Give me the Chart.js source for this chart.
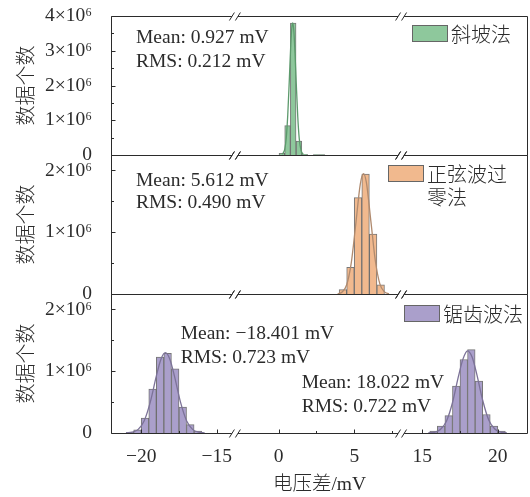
<!DOCTYPE html>
<html>
<head>
<meta charset="utf-8">
<script src="https://cdn.jsdelivr.net/npm/chart.js@4.4.0/dist/chart.umd.min.js"></script>
<style>
  html, body { margin: 0; padding: 0; background: #fff; }
  #wrap { position: relative; width: 530px; height: 497px; overflow: hidden; }
  canvas { position: absolute; left: 0; }
</style>
</head>
<body>
<div id="wrap">
  <canvas id="c1" width="530" height="203" style="top:-16px"></canvas>
  <canvas id="c2" width="530" height="203" style="top:123px"></canvas>
  <canvas id="c3" width="530" height="235" style="top:262px"></canvas>
</div>
<script>
// voltage axis is cut into three kept stretches (mV)
const xSegments = [[-22, -13.8], [-2.9, 8.1], [13.6, 22]];
const xMajorTicks = [-20, -15, 0, 5, 15, 20];
const xMinorTicks = [-17.5, 2.5, 7.5, 17.5];

// counts are in units of 10^6
const rampTicks = [0, 1, 2, 3, 4];
const rampMinor = [0.5, 1.5, 2.5, 3.5];
const sineTicks = [0, 1, 2];
const sineMinor = [0.5, 1.5];

// 斜坡法
const rampBins = [0.21, 0.585, 0.96, 1.34, 1.72, 2.48, 2.86];
const rampCounts = [0.05, 0.845, 3.795, 0.40, 0.02, 0.012, 0.012];
const rampFitX = [0.25, 0.4, 0.5, 0.6, 0.7, 0.8, 0.87, 0.93, 1.0, 1.08, 1.16, 1.26, 1.36, 1.48, 1.62];
const rampFitY = [0.023, 0.17, 0.49, 1.16, 2.14, 3.18, 3.67, 3.80, 3.58, 2.93, 2.08, 1.11, 0.47, 0.13, 0.018];

// 正弦波过零法
const sineBins = [4.25, 4.75, 5.25, 5.75, 6.25, 6.75];
const sineCounts = [0.07, 0.43, 1.56, 1.94, 0.97, 0.15];
const sineFitX = [3.9, 4.2, 4.5, 4.8, 5.1, 5.4, 5.61, 5.8, 6.1, 6.4, 6.7, 7.0, 7.3];
const sineFitY = [0.004, 0.031, 0.15, 0.50, 1.13, 1.78, 1.95, 1.81, 1.18, 0.53, 0.16, 0.035, 0.005];

// 锯齿波法, negative and positive clusters
const sawNegBins = [-20.75, -20.25, -19.75, -19.25, -18.75, -18.25, -17.75, -17.25, -16.75, -16.25];
const sawNegCounts = [0.012, 0.05, 0.24, 0.71, 1.23, 1.29, 1.04, 0.42, 0.135, 0.03];
const sawPosBins = [15.75, 16.25, 16.75, 17.25, 17.75, 18.25, 18.75, 19.25, 19.75, 20.25];
const sawPosCounts = [0.03, 0.11, 0.28, 0.76, 1.19, 1.35, 0.84, 0.30, 0.11, 0.03];
const sawNegFitX = [-21.0, -20.6, -20.2, -19.8, -19.4, -19.0, -18.7, -18.4, -18.1, -17.8, -17.4, -17.0, -16.6, -16.2, -15.8];
const sawNegFitY = [0.002, 0.013, 0.059, 0.20, 0.50, 0.92, 1.19, 1.30, 1.19, 0.92, 0.50, 0.20, 0.059, 0.013, 0.002];
const sawPosFitX = [15.4, 15.8, 16.2, 16.6, 17.0, 17.4, 17.7, 18.0, 18.3, 18.6, 19.0, 19.4, 19.8, 20.2, 20.6];
const sawPosFitY = [0.002, 0.012, 0.055, 0.19, 0.49, 0.92, 1.20, 1.33, 1.23, 0.96, 0.53, 0.21, 0.064, 0.014, 0.002];

const serif = '"Liberation Serif", "Times New Roman", "Noto Sans CJK SC", serif';
const cjk = '"Noto Sans CJK SC", "Liberation Serif", sans-serif';
const ink = '#2b2b2b';

const minus = v => (v < 0 ? '\u2212' + Math.abs(v) : String(v));
const pts = (xs, ys) => xs.map((x, i) => ({ x: x, y: ys[i] }));

// linear scale with the gaps between xSegments removed
const Linear = Chart.LinearScale || Chart.registry.getScale('linear');
class BrokenAxis extends Linear {
  buildTicks() {
    return xMajorTicks.concat(xMinorTicks).sort((a, b) => a - b)
      .map(v => ({ value: v, major: xMajorTicks.includes(v) }));
  }
  _kept(value) {
    let pos = 0;
    for (const [lo, hi] of xSegments) {
      if (value <= hi) return pos + Math.max(value - lo, 0);
      pos += hi - lo;
    }
    return pos;
  }
  getPixelForValue(value) {
    if (value === null || isNaN(value)) return NaN;
    return this.getPixelForDecimal(this._kept(value) / this._kept(Infinity));
  }
  getValueForPixel(pixel) {
    let pos = this.getDecimalForPixel(pixel) * this._kept(Infinity);
    for (const [lo, hi] of xSegments) {
      if (pos <= hi - lo) return lo + pos;
      pos -= hi - lo;
    }
    return xSegments[xSegments.length - 1][1];
  }
}
BrokenAxis.id = 'broken';
BrokenAxis.defaults = {};
Chart.register(BrokenAxis);

// frame with break marks, inward ticks, stats text and legend box
const panelDecor = {
  id: 'panelDecor',
  afterDatasetsDraw(chart, args, opts) {
    const { ctx, chartArea: a, scales: { x, y } } = chart;
    const L = Math.round(a.left) + 0.5, R = Math.round(a.right) - 0.5;
    const T = Math.round(a.top) + 0.5, B = Math.round(a.bottom) + 0.5;
    const breaks = xSegments.slice(0, -1).map(s => x.getPixelForValue(s[1]));
    const gap = 3;
    ctx.save();
    ctx.strokeStyle = ink;
    ctx.lineWidth = 1;
    ctx.beginPath();
    ctx.moveTo(L, T); ctx.lineTo(L, B);
    ctx.moveTo(R, T); ctx.lineTo(R, B);
    [T, B].forEach(yy => {
      let from = L;
      breaks.forEach(bx => { ctx.moveTo(from, yy); ctx.lineTo(bx - gap, yy); from = bx + gap; });
      ctx.moveTo(from, yy); ctx.lineTo(R, yy);
      breaks.forEach(bx => {
        [-gap, gap].forEach(o => { ctx.moveTo(bx + o - 2.5, yy + 4); ctx.lineTo(bx + o + 2.5, yy - 4); });
      });
    });
    // y ticks point into the plot
    y.ticks.forEach(t => {
      const py = Math.round(y.getPixelForValue(t.value)) + 0.5;
      ctx.moveTo(L, py); ctx.lineTo(L + 4, py);
    });
    (opts.yMinor || []).forEach(v => {
      const py = Math.round(y.getPixelForValue(v)) + 0.5;
      ctx.moveTo(L, py); ctx.lineTo(L + 2.5, py);
    });
    if (opts.xTicks) {
      x.ticks.forEach(t => {
        const px = Math.round(x.getPixelForValue(t.value)) + 0.5;
        ctx.moveTo(px, B); ctx.lineTo(px, B - (t.major ? 4 : 2.5));
      });
    }
    ctx.stroke();

    ctx.fillStyle = ink;
    ctx.textBaseline = 'alphabetic';
    ctx.textAlign = 'left';
    ctx.font = '19.5px ' + serif;
    (opts.notes || []).forEach(n => ctx.fillText(n.text, a.left + n.dx, a.top + n.dy));

    const lg = opts.legend;
    if (lg) {
      const ds = chart.data.datasets[0];
      const bx = a.right - lg.dx, by = a.top + lg.dy;
      ctx.fillStyle = ds.backgroundColor;
      ctx.fillRect(bx, by, 36, 17);
      ctx.strokeStyle = '#666';
      ctx.strokeRect(bx + 0.5, by + 0.5, 35, 16);
      ctx.fillStyle = ink;
      ctx.font = '300 20px ' + cjk;
      ctx.textBaseline = 'middle';
      lg.lines.forEach((s, i) => ctx.fillText(s, bx + 39, by + 9 + i * 23));
    }
    ctx.restore();
  }
};

function makePanel(id, cfg) {
  const datasets = [{
    type: 'bar',
    label: cfg.label,
    data: cfg.bars,
    backgroundColor: cfg.fill,
    borderColor: 'rgba(95, 95, 95, 0.85)',
    borderWidth: 1,
    barPercentage: 1,
    categoryPercentage: 1,
    order: 1
  }];
  cfg.fits.forEach(f => datasets.push({
    type: 'line',
    data: f,
    borderColor: cfg.curve,
    borderWidth: 1.3,
    pointRadius: 0,
    fill: false,
    cubicInterpolationMode: 'monotone',
    order: 0
  }));

  return new Chart(document.getElementById(id), {
    type: 'bar',
    data: { datasets: datasets },
    plugins: [panelDecor],
    options: {
      responsive: false,
      animation: false,
      events: [],
      layout: { padding: cfg.padding },
      plugins: {
        legend: { display: false },
        tooltip: { enabled: false },
        panelDecor: { notes: cfg.notes, legend: cfg.legend, yMinor: cfg.yMinor, xTicks: cfg.showX }
      },
      scales: {
        x: {
          type: 'broken',
          min: xSegments[0][0],
          max: xSegments[xSegments.length - 1][1],
          offset: false,
          display: cfg.showX,
          grid: { display: false, drawTicks: false },
          border: { display: false },
          ticks: {
            autoSkip: false,
            maxRotation: 0,
            padding: 12,
            color: ink,
            font: { family: serif, size: 19.5 },
            callback: v => (xMajorTicks.includes(v) ? minus(v) : '')
          },
          title: {
            display: true,
            text: '电压差/mV',
            color: ink,
            font: { family: serif, size: 19.5, weight: 300 },
            padding: { top: 0, bottom: 0 }
          },
          afterFit: s => { s.height = cfg.showX ? 64 : 0; }
        },
        y: {
          min: 0,
          max: cfg.yMax,
          grid: { display: false, drawTicks: false },
          border: { display: false },
          afterBuildTicks: s => { s.ticks = cfg.yTicks.map(v => ({ value: v })); },
          afterFit: s => { s.width = 111; },
          ticks: {
            padding: 19,
            color: ink,
            font: { family: serif, size: 19.5 },
            callback: v => (v === 0 ? '0' : v + '×10⁶')
          },
          title: {
            display: true,
            text: '数据个数',
            color: ink,
            font: { family: cjk, size: 20, weight: 300 },
            padding: { top: 13, bottom: 0 }
          }
        }
      }
    }
  });
}

makePanel('c1', {
  label: '斜坡法',
  fill: '#8ec89c',
  curve: '#5c9a6c',
  bars: pts(rampBins, rampCounts),
  fits: [pts(rampFitX, rampFitY)],
  yMax: 4,
  yTicks: rampTicks,
  yMinor: rampMinor,
  showX: false,
  padding: { top: 32, bottom: 32, left: 0, right: 2 },
  notes: [
    { text: 'Mean: 0.927 mV', dx: 25, dy: 26.7 },
    { text: 'RMS: 0.212 mV', dx: 25, dy: 50.7 }
  ],
  legend: { lines: ['斜坡法'], dx: 116, dy: 9 }
});

makePanel('c2', {
  label: '正弦波过零法',
  fill: '#f1b98e',
  curve: '#b08a6e',
  bars: pts(sineBins, sineCounts),
  fits: [pts(sineFitX, sineFitY)],
  yMax: 2.25,
  yTicks: sineTicks,
  yMinor: sineMinor,
  showX: false,
  padding: { top: 32, bottom: 32, left: 0, right: 2 },
  notes: [
    { text: 'Mean: 5.612 mV', dx: 25, dy: 30.7 },
    { text: 'RMS: 0.490 mV', dx: 25, dy: 53.3 }
  ],
  legend: { lines: ['正弦波过', '零法'], dx: 140, dy: 10 }
});

makePanel('c3', {
  label: '锯齿波法',
  fill: '#aa9fcb',
  curve: '#7c7298',
  bars: pts(sawNegBins, sawNegCounts).concat(pts(sawPosBins, sawPosCounts)),
  fits: [pts(sawNegFitX, sawNegFitY), pts(sawPosFitX, sawPosFitY)],
  yMax: 2.25,
  yTicks: sineTicks,
  yMinor: sineMinor,
  showX: true,
  padding: { top: 32, bottom: 0, left: 0, right: 2 },
  notes: [
    { text: 'Mean: \u221218.401 mV', dx: 69.7, dy: 45.3 },
    { text: 'RMS: 0.723 mV', dx: 69.7, dy: 68.7 },
    { text: 'Mean: 18.022 mV', dx: 190.7, dy: 94.3 },
    { text: 'RMS: 0.722 mV', dx: 190.7, dy: 118.3 }
  ],
  legend: { lines: ['锯齿波法'], dx: 124, dy: 11 }
});
</script>
</body>
</html>
